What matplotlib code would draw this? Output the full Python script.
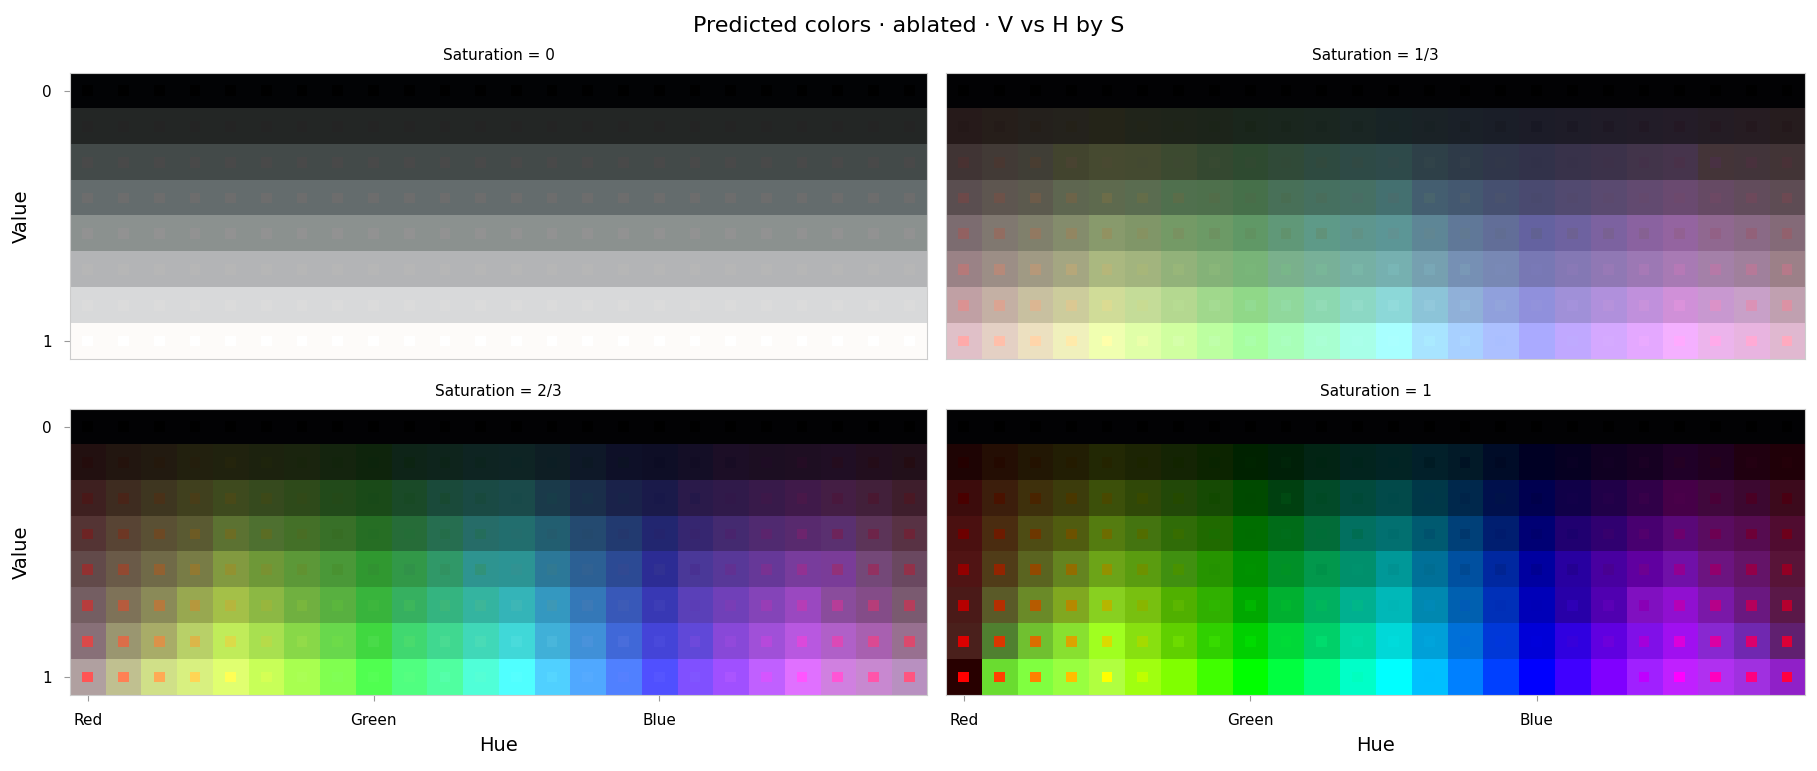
import numpy as np
import matplotlib
matplotlib.use('Agg')
import matplotlib.pyplot as plt
from matplotlib.colors import hsv_to_rgb, to_rgb
from matplotlib.patches import Rectangle

# grid of true colours (axes of the chart)
hue_deg = [0, 15, 30, 45, 60, 75, 90, 105, 120, 135, 150, 165,
           180, 195, 210, 225, 240, 255, 270, 285, 300, 315, 330, 345]
value_levels = [0, 1/7, 2/7, 3/7, 4/7, 5/7, 6/7, 1]
saturations = [0, 1/3, 2/3, 1]
sat_titles = ['0', '1/3', '2/3', '1']
hue_tick_pos = [0, 8, 16]
hue_tick_labels = ['Red', 'Green', 'Blue']

# predicted colours, rows = value 0 -> 1, columns = hue steps
black_row = ['#020204'] * 24

pred_s0_rows = ['#020305', '#232625', '#434a49', '#646c6d',
                '#8b918f', '#b3b4b6', '#d8d9da', '#fdfbf9']

pred_s13 = [
    black_row,
    ['#261a1a', '#261e1a', '#24201c', '#24221c', '#242418', '#20241a', '#1e241a', '#1c241a',
     '#1a261c', '#1a261e', '#1a2620', '#1a2624', '#182426', '#1a2226', '#1a2028', '#1a1e28',
     '#1c1c28', '#1e1c28', '#201c28', '#221c28', '#241c28', '#241c24', '#261c22', '#261c1e'],
    ['#403434', '#423a36', '#403e36', '#42442e', '#464a30', '#444a30', '#3c4a30', '#344830',
     '#2e4a30', '#304a38', '#2e4a40', '#2e4a46', '#2e4a4a', '#2e4048', '#2e3a48', '#30364a',
     '#32324a', '#38324a', '#3c324a', '#42344a', '#46344c', '#443438', '#42343a', '#423436'],
    ['#5a4e50', '#5e5650', '#5c5a4e', '#5e6650', '#5e6a4e', '#5a6c50', '#50704e', '#4e704c',
     '#46704a', '#487058', '#467060', '#467064', '#447070', '#445e70', '#445870', '#465070',
     '#4a4a70', '#524a70', '#5a4a70', '#624a70', '#6a4a70', '#664a64', '#624c5c', '#5e4c54'],
    ['#7c6c70', '#807870', '#80806c', '#848c6c', '#889a6c', '#809668', '#749a66', '#6c9a66',
     '#609866', '#609878', '#5e9a88', '#5e968e', '#5c9696', '#5e8696', '#607898', '#626e98',
     '#6462a0', '#6e62a0', '#7c62a0', '#8a62a0', '#9464a0', '#906890', '#8a6a86', '#846a78'],
    ['#9a8286', '#9c8e86', '#a09a84', '#a4a682', '#aab880', '#a2b47e', '#92b27a', '#84b278',
     '#78b478', '#7ab08c', '#78b098', '#76b0a4', '#76b0b0', '#76a0b0', '#7690b4', '#7888b4',
     '#7878b4', '#8478b4', '#9078b4', '#9c78b4', '#a87ab4', '#a480a8', '#a0809c', '#9c8088'],
    ['#c0a0a4', '#c4b0a4', '#c8c0a0', '#cccc9c', '#d0dc98', '#c4dc98', '#b4d890', '#a0d88c',
     '#90d888', '#90d89c', '#8cd8b0', '#8cd8c4', '#8cd8d8', '#8cc4d8', '#90b0d8', '#90a0dc',
     '#9090dc', '#a090d8', '#b090dc', '#c090dc', '#d090d8', '#c898d0', '#c8a0c8', '#c0a0b0'],
    ['#e0c0c8', '#e4d0c4', '#ece0c0', '#f0f0bc', '#f0ffb0', '#e0ffa8', '#d0ffa0', '#bcffa0',
     '#a8ffa0', '#a8ffb8', '#a8ffd0', '#a8ffe8', '#a8ffff', '#a8e4ff', '#a8d0ff', '#acc0ff',
     '#aaaaff', '#c0a8ff', '#d4a8ff', '#e4a8ff', '#f4b0ff', '#ecb4ec', '#e8b4e0', '#e0b8d0'],
]

pred_s23 = [
    black_row,
    ['#221010', '#221610', '#221a10', '#22200e', '#20220e', '#1c220e', '#1a240e', '#14240e',
     '#0e240c', '#0e2418', '#0e241c', '#0e2422', '#0e2424', '#0e1e24', '#0e1828', '#0e1028',
     '#0e0e26', '#140e26', '#1c0e26', '#1c0e22', '#1e0e22', '#200e24', '#220e1e', '#22101a'],
    ['#3e2020', '#3e2c20', '#3e3620', '#40401e', '#3e4a1e', '#364a1e', '#2e4a1a', '#224a1a',
     '#1a4a18', '#1a4a28', '#1a4a3a', '#1a4a44', '#1a4a4a', '#1a3a4a', '#1a2e4a', '#1a224a',
     '#1a1a4a', '#2a1a4a', '#301a4a', '#381a4a', '#401a4a', '#441e44', '#42203a', '#3e1e2c'],
    ['#543434', '#584434', '#5a5034', '#5a5a32', '#5c7232', '#4e7030', '#447028', '#387028',
     '#266e24', '#266c38', '#266e50', '#266c68', '#226e6e', '#225e70', '#244a70', '#223a70',
     '#222670', '#362670', '#442a70', '#502a70', '#582a6e', '#5a3070', '#5c3458', '#583244'],
    ['#624a4a', '#6a5a48', '#706a48', '#787c46', '#829a40', '#6e9838', '#5c9838', '#4a9838',
     '#309830', '#329848', '#309868', '#2e9490', '#2c9494', '#2c7898', '#2c6094', '#2c4a94',
     '#2c2c94', '#4a3898', '#583898', '#663898', '#783c9c', '#7a3c98', '#744878', '#6a4860'],
    ['#745e62', '#7e7258', '#8a8a58', '#98a850', '#a4c048', '#8cb844', '#70b040', '#58b040',
     '#38b43c', '#36b060', '#34b480', '#34b4a0', '#34b4b8', '#3498c0', '#3478b8', '#3858b8',
     '#3838b4', '#5a40b8', '#7040b8', '#8444b8', '#9a48c0', '#8a4c9c', '#844c88', '#7a5a70'],
    ['#887078', '#9a9670', '#a8ac68', '#b8d068', '#c0ec5a', '#a8e050', '#88d848', '#68d84c',
     '#40d840', '#40d870', '#40d890', '#40d8b8', '#40d8d8', '#40b0d8', '#4090d8', '#4068d8',
     '#4444d8', '#6048d8', '#8848d8', '#a050d8', '#b858e0', '#b060c8', '#a860b0', '#987090'],
    ['#b0a0a0', '#c0c090', '#d0e088', '#d8f080', '#e0ff70', '#c8ff58', '#a8ff50', '#80ff50',
     '#50ff50', '#50ff80', '#50ffa0', '#50ffd8', '#50ffff', '#50d0ff', '#50a8ff', '#5080ff',
     '#5050ff', '#8050ff', '#a050ff', '#c060ff', '#e070ff', '#d080e0', '#c888d0', '#b890c0'],
]

pred_s1 = [
    black_row,
    ['#1e0404', '#240e04', '#221704', '#221e04', '#222804', '#1c2404', '#142404', '#0c2400',
     '#002200', '#002008', '#022414', '#02241e', '#022424', '#02202a', '#021a28', '#000c28',
     '#000024', '#060022', '#100022', '#160022', '#200028', '#200020', '#200010', '#200008'],
    ['#3c0c0c', '#3c1e0c', '#3e300c', '#3c3c0c', '#3c500a', '#304808', '#224808', '#164a04',
     '#004a00', '#004010', '#024a28', '#024a3c', '#024a4a', '#003848', '#00284c', '#00104c',
     '#000050', '#100048', '#200048', '#300048', '#460048', '#40083c', '#3c0830', '#3c0a1c'],
    ['#4a1010', '#4a2c10', '#4e4c14', '#505c10', '#547c10', '#447410', '#306c08', '#206a00',
     '#006e00', '#006c18', '#026c38', '#027060', '#027070', '#005a70', '#004078', '#001e70',
     '#000074', '#200070', '#300070', '#480070', '#5a0878', '#5a0c60', '#560c50', '#500c30'],
    ['#501414', '#503c18', '#5a6420', '#648420', '#6ca418', '#5a9c10', '#409010', '#269400',
     '#009000', '#009028', '#02984c', '#00906c', '#009898', '#007098', '#0050a0', '#0028a0',
     '#0000a0', '#2800a0', '#4800a0', '#6000a0', '#7010a8', '#6c1480', '#641468', '#581438'],
    ['#4a1a18', '#5a5a28', '#6a8a28', '#80a820', '#88d020', '#78c010', '#50b000', '#30b000',
     '#00a800', '#00b030', '#00b060', '#00b090', '#00b8b8', '#0088b0', '#0060b0', '#0030b8',
     '#0000b8', '#2800a8', '#5000b0', '#8010c0', '#9010d0', '#7a18a8', '#6a1880', '#5a1848'],
    ['#4a201c', '#508030', '#70c030', '#88e030', '#a0ff20', '#88e010', '#60d000', '#30d000',
     '#00d000', '#00d838', '#00d068', '#00d8a0', '#00d8d8', '#00a0d8', '#0070d8', '#0038d8',
     '#0000d8', '#3000e0', '#6000e0', '#8010e8', '#a010f0', '#8828d0', '#7028b0', '#602070'],
    ['#280000', '#6adc30', '#80ff40', '#98ff40', '#b0ff40', '#a0ff10', '#80ff00', '#40ff00',
     '#00ff00', '#00ff40', '#00ff80', '#00ffc8', '#00ffff', '#00c0ff', '#0080ff', '#0040ff',
     '#0000ff', '#4000ff', '#8000ff', '#a020ff', '#c020ff', '#b030f0', '#a030e0', '#9020c8'],
]

pred_s0 = [[c] * 24 for c in pred_s0_rows]
pred_tables = [pred_s0, pred_s13, pred_s23, pred_s1]

fig = plt.figure(figsize=(18.17, 7.71), dpi=100)
fig.suptitle('Predicted colors \u00b7 ablated \u00b7 V vs H by S', fontsize=16, y=0.979)

# axes rectangles (left, bottom, width, height)
boxes = [
    [0.0385, 0.5344, 0.4717, 0.371],
    [0.5206, 0.5344, 0.4728, 0.371],
    [0.0385, 0.0986, 0.4717, 0.371],
    [0.5206, 0.0986, 0.4728, 0.371],
]

for k, (s, table) in enumerate(zip(saturations, pred_tables)):
    ax = fig.add_axes(boxes[k])
    img = np.array([[to_rgb(c) for c in row] for row in table])
    ax.imshow(img, aspect='auto', interpolation='nearest', origin='upper')

    # true colour marker in the middle of every cell
    for r, v in enumerate(value_levels):
        for c, h in enumerate(hue_deg):
            true_rgb = hsv_to_rgb((h / 360, s, v))
            ax.add_patch(Rectangle((c - 0.15, r - 0.15), 0.3, 0.3,
                                   facecolor=true_rgb, edgecolor='none'))

    ax.set_xlim(-0.5, len(hue_deg) - 0.5)
    ax.set_ylim(len(value_levels) - 0.5, -0.5)
    ax.set_title(f'Saturation = {sat_titles[k]}', fontsize=11, pad=9)

    for sp in ax.spines.values():
        sp.set_color('#cccccc')
        sp.set_linewidth(0.8)
    ax.tick_params(color='#999999', length=4, width=0.8, labelsize=11, pad=9)

    if k in (0, 2):
        ax.set_yticks([0, len(value_levels) - 1])
        ax.set_yticklabels(['0', '1'])
        ax.set_ylabel('Value', fontsize=14, labelpad=8)
    else:
        ax.set_yticks([])

    if k in (2, 3):
        ax.set_xticks(hue_tick_pos)
        ax.set_xticklabels(hue_tick_labels)
        ax.set_xlabel('Hue', fontsize=14, labelpad=6)
    else:
        ax.set_xticks([])

fig.savefig('out.png', dpi=100)
